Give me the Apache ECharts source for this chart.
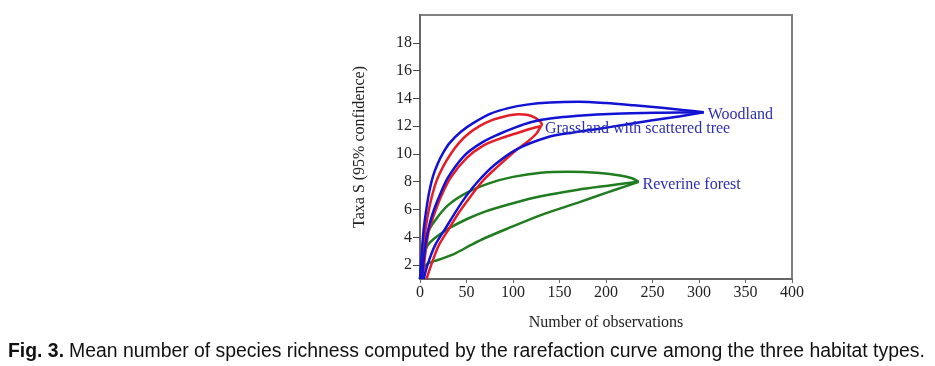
<!DOCTYPE html>
<html>
<head>
<meta charset="utf-8">
<script src="https://cdn.jsdelivr.net/npm/echarts@6/dist/echarts.min.js"></script>
<style>
  html, body { margin: 0; padding: 0; background: #fff; }
  #chart { width: 935px; height: 366px; }
</style>
</head>
<body>
<div id="chart"></div>
<script>
// habitat names (end labels)
const habitats = ["Woodland", "Grassland with scattered tree", "Reverine forest"];
const yTicks = [2, 4, 6, 8, 10, 12, 14, 16, 18];

// Woodland: upper CI, mean, lower CI  [observations, taxa]
const woodlandUpper = [[0,1],[2,3],[4,4.6],[7,6.1],[10,7.3],[14,8.4],[19,9.3],[25,10.1],[32,10.8],[44,11.6],[58,12.25],[76,12.9],[95,13.3],[115,13.55],[140,13.7],[170,13.75],[200,13.66],[230,13.5],[260,13.32],[285,13.15],[305,13.0]];
const woodlandMean = [[2,1],[4,2.4],[6,3.5],[9,4.6],[14,5.8],[21,7.0],[30,8.3],[48,9.9],[66,10.8],[84,11.4],[102,11.9],[120,12.3],[140,12.55],[170,12.75],[210,12.9],[260,12.97],[305,13.0]];
const woodlandLower = [[4,1],[8,2],[16,3.4],[27,4.6],[38,5.8],[50,7.0],[62,8.0],[80,9.2],[103,10.3],[137,11.2],[165,11.55],[191,11.8],[220,12.1],[250,12.42],[280,12.72],[305,13.0]];

// Grassland with scattered tree
const grassUpper = [[1,1],[3,3],[6,4.6],[9,5.8],[13,7],[18,8.1],[25,9.1],[33,10.0],[42,10.8],[52,11.45],[64,12.0],[78,12.45],[92,12.72],[106,12.85],[116,12.8],[124,12.6],[129,12.35],[131,12.12],[130,12.0]];
const grassMean = [[3,1],[5,2.4],[7,3.5],[10,4.6],[16,5.8],[23,7],[33,8.3],[50,9.7],[68,10.6],[86,11.1],[102,11.45],[118,11.8],[130,12.0]];
const grassLower = [[7,1],[12,2],[20,3.4],[31,4.6],[42,5.8],[55,7],[68,8.1],[82,9.0],[102,10.2],[116,10.9],[125,11.45],[130,12.0]];

// Reverine forest
const forestUpper = [[0,1],[3,3],[8,4.3],[16,5.2],[30,6.3],[50,7.2],[75,7.9],[100,8.35],[130,8.65],[160,8.72],[190,8.65],[215,8.45],[228,8.25],[235,8.0]];
const forestMean = [[0,1],[3,2.5],[8,3.4],[15,3.9],[30,4.6],[50,5.3],[70,5.85],[100,6.45],[130,6.95],[170,7.43],[200,7.7],[235,8.0]];
const forestLower = [[0,1],[3,1.7],[8,2.1],[16,2.3],[25,2.5],[38,2.85],[55,3.45],[70,3.95],[93,4.6],[130,5.6],[170,6.5],[200,7.2],[220,7.65],[235,8.0]];

const BLUE = "#1212d4";
const RED = "#e41e26";
const GREEN = "#1f7d1f";
const LABEL = "#2e2eb0";
const SERIF = "'Liberation Serif', 'DejaVu Serif', serif";
const SANS = "'Liberation Sans', Arial, sans-serif";

const curve = (name, data, color, label) => ({
  name: name,
  type: "line",
  data: data,
  smooth: 0.3,
  showSymbol: false,
  silent: true,
  lineStyle: { color: color, width: 2.5 },
  endLabel: label ? {
    show: true,
    formatter: label,
    color: LABEL,
    fontFamily: SERIF,
    fontSize: 16,
    distance: 4,
    offset: [0, 3]
  } : { show: false }
});

const chart = echarts.init(document.getElementById("chart"));
chart.setOption({
  animation: false,
  title: {
    left: 3,
    top: 337,
    text: "{b|Fig. 3.} {n|Mean number of species richness computed by the rarefaction curve among the three habitat types.}",
    textStyle: {
      fontWeight: "normal",
      rich: {
        b: { fontFamily: SANS, fontSize: 19.4, fontWeight: "bold", color: "#111" },
        n: { fontFamily: SANS, fontSize: 19.4, fontWeight: "normal", color: "#111" }
      }
    }
  },
  grid: {
    left: 420,
    right: 143,
    top: 15,
    bottom: 87,
    show: true,
    borderColor: "#808080",
    borderWidth: 2
  },
  xAxis: {
    type: "value",
    min: 0,
    max: 400,
    interval: 50,
    name: "Number of observations",
    nameLocation: "middle",
    nameGap: 36,
    nameTextStyle: { fontFamily: SERIF, fontSize: 16, color: "#222" },
    splitLine: { show: false },
    axisLine: { lineStyle: { color: "#666", width: 2 } },
    axisTick: { length: 4, lineStyle: { color: "#666" } },
    axisLabel: { fontFamily: SERIF, fontSize: 16, color: "#222", margin: 6 }
  },
  yAxis: {
    type: "value",
    min: 1,
    max: 20,
    name: "Taxa S (95% confidence)",
    nameLocation: "middle",
    nameGap: 52,
    nameTextStyle: { fontFamily: SERIF, fontSize: 16, color: "#222" },
    splitLine: { show: false },
    axisLine: { show: true, lineStyle: { color: "#666", width: 2 } },
    axisTick: { show: true, length: 7, customValues: yTicks, lineStyle: { color: "#444" } },
    axisLabel: { fontFamily: SERIF, fontSize: 16, color: "#222", margin: 8, customValues: yTicks }
  },
  series: [
    curve("Reverine upper", forestUpper, GREEN),
    curve("Reverine mean", forestMean, GREEN, habitats[2]),
    curve("Reverine lower", forestLower, GREEN),
    curve("Grassland upper", grassUpper, RED),
    curve("Grassland mean", grassMean, RED),
    curve("Grassland lower", grassLower, RED),
    curve("Woodland upper", woodlandUpper, BLUE),
    curve("Woodland mean", woodlandMean, BLUE, habitats[0]),
    curve("Woodland lower", woodlandLower, BLUE),
    // label for grassland drawn last so it sits over the blue line
    Object.assign(curve("Grassland label", [grassMean[grassMean.length - 1]], "rgba(0,0,0,0)", habitats[1]), { z: 5 })
  ]
});

window.addEventListener("resize", () => chart.resize());
</script>
</body>
</html>
